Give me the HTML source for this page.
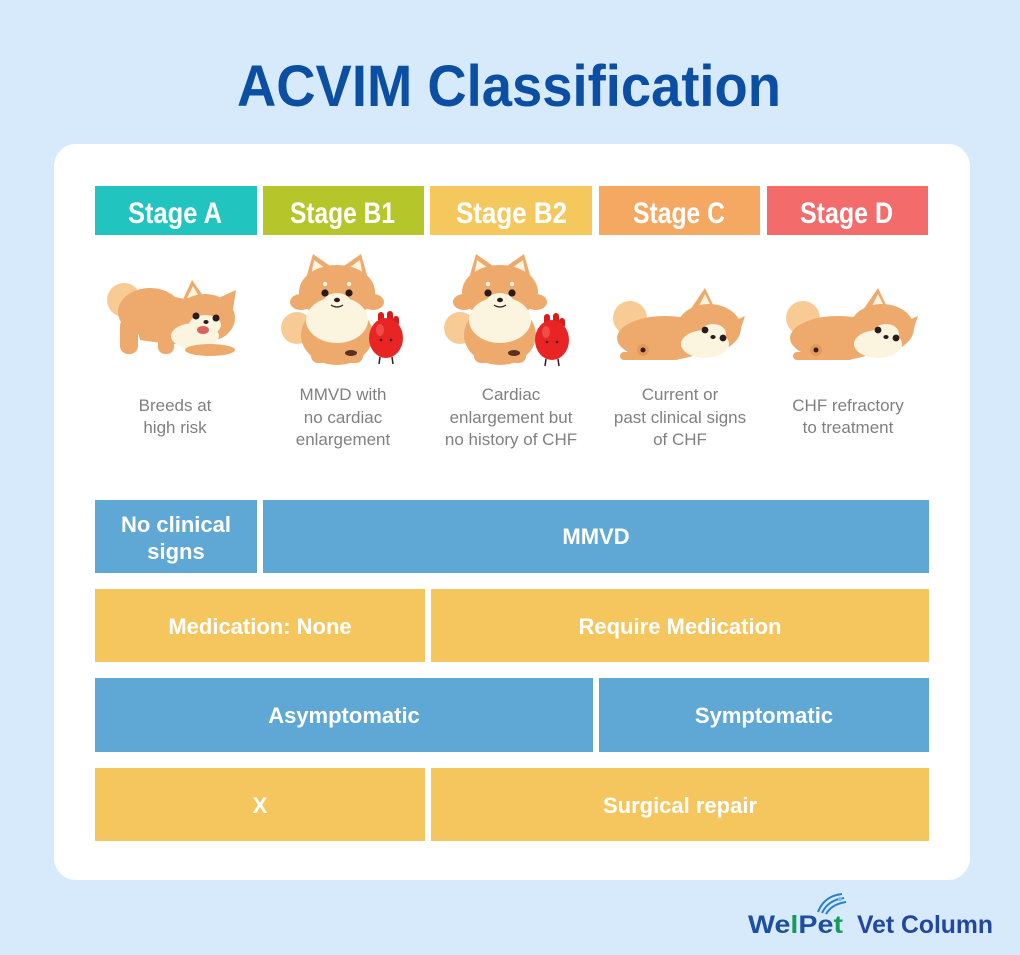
<!DOCTYPE html>
<html>
<head>
<meta charset="utf-8">
<style>
html,body{margin:0;padding:0;background:#d6eafc;}
svg{display:block;}
</style>
</head>
<body>
<svg width="1020" height="955" viewBox="0 0 1020 955" xmlns="http://www.w3.org/2000/svg">
  <defs>
    <g id="sitdog">
      <circle cx="-40" cy="38" r="16" fill="#f8cb95"/>
      <ellipse cx="0" cy="45" rx="36" ry="30" fill="#eeaa6c"/>
      <rect x="-26" y="52" width="17" height="21" rx="7" fill="#eeaa6c"/>
      <rect x="9" y="52" width="17" height="21" rx="7" fill="#eeaa6c"/>
      <polygon points="-32,-8 -24,-36 -4,-22" fill="#eeaa6c"/>
      <polygon points="32,-8 24,-36 4,-22" fill="#eeaa6c"/>
      <polygon points="-26,-14 -23,-30 -12,-22" fill="#fbf4df"/>
      <polygon points="26,-14 23,-30 12,-22" fill="#fbf4df"/>
      <ellipse cx="0" cy="2" rx="38" ry="27" fill="#eeaa6c"/>
      <ellipse cx="-36" cy="12" rx="11" ry="8" fill="#eeaa6c"/>
      <ellipse cx="36" cy="12" rx="11" ry="8" fill="#eeaa6c"/>
      <ellipse cx="0" cy="30" rx="31" ry="23" fill="#fbf4df"/>
      <ellipse cx="0" cy="13" rx="14" ry="10" fill="#fbf4df"/>
      <circle cx="-12" cy="-6" r="2.2" fill="#fbf4df"/>
      <circle cx="12" cy="-6" r="2.2" fill="#fbf4df"/>
      <circle cx="-12" cy="3" r="3.6" fill="#2a1a1a"/>
      <circle cx="12" cy="3" r="3.6" fill="#2a1a1a"/>
      <ellipse cx="0" cy="10" rx="3" ry="2.2" fill="#2a1a1a"/>
      <path d="M-6,15 Q0,19 6,15" stroke="#2a1a1a" stroke-width="1.2" fill="none"/>
      <ellipse cx="14" cy="63" rx="6" ry="3" fill="#5a3020"/>
    </g>
    <g id="heart">
      <rect x="-8" y="-26" width="6" height="12" rx="3" fill="#d81c1c"/>
      <rect x="1" y="-27" width="6" height="12" rx="3" fill="#d81c1c"/>
      <rect x="7" y="-22" width="6" height="10" rx="3" fill="#d81c1c"/>
      <ellipse cx="0" cy="0" rx="17" ry="20" fill="#e82424"/>
      <ellipse cx="-6" cy="-8" rx="4" ry="6" fill="#f04a4a"/>
      <line x1="-6" y1="19" x2="-7" y2="26" stroke="#3a1a1a" stroke-width="1.5"/>
      <line x1="6" y1="19" x2="7" y2="26" stroke="#3a1a1a" stroke-width="1.5"/>
      <circle cx="-5" cy="2" r="1.3" fill="#3a1a1a"/>
      <circle cx="5" cy="2" r="1.3" fill="#3a1a1a"/>
    </g>
    <g id="liedog">
      <circle cx="-35" cy="-20" r="17" fill="#f8cb95"/>
      <ellipse cx="0" cy="0" rx="48" ry="22" fill="#eeaa6c"/>
      <polygon points="25,-28 40,-50 52,-25" fill="#eeaa6c"/>
      <polygon points="58,-12 80,-22 72,2" fill="#eeaa6c"/>
      <polygon points="34,-32 40,-44 47,-30" fill="#fbf4df"/>
      <ellipse cx="44" cy="-10" rx="32" ry="24" fill="#eeaa6c"/>
      <ellipse cx="40" cy="6" rx="24" ry="14" fill="#fbf4df"/>
      <ellipse cx="48" cy="-4" rx="13" ry="10" fill="#fbf4df"/>
      <circle cx="40" cy="-8" r="3.4" fill="#2a1a1a"/>
      <circle cx="58" cy="0" r="3.4" fill="#2a1a1a"/>
      <ellipse cx="48" cy="-1" rx="2.6" ry="2" fill="#2a1a1a"/>
      <rect x="-45" y="14" width="60" height="8" rx="4" fill="#eeaa6c"/>
      <ellipse cx="-22" cy="12" rx="6" ry="6" fill="#e39a5a"/>
      <circle cx="-22" cy="12" r="2.5" fill="#3a1a1a"/>
    </g>
  </defs>

  <rect x="0" y="0" width="1020" height="955" fill="#d6eafc"/>

  <text x="237" y="106" font-family="Liberation Sans, sans-serif" font-weight="bold" font-size="58" fill="#0b4ea2" textLength="544" lengthAdjust="spacingAndGlyphs">ACVIM Classification</text>

  <rect x="54" y="144" width="916" height="736" rx="22" fill="#ffffff"/>

  <!-- Stage headers -->
  <rect x="95" y="186" width="162" height="49" fill="#22c4c0"/>
  <rect x="263" y="186" width="161" height="49" fill="#b5c62a"/>
  <rect x="430" y="186" width="162" height="49" fill="#f5c85e"/>
  <rect x="599" y="186" width="161" height="49" fill="#f4a862"/>
  <rect x="767" y="186" width="161" height="49" fill="#f46b6b"/>
  <g font-family="Liberation Sans, sans-serif" font-weight="bold" font-size="30" fill="#ffffff">
    <text x="128" y="223" textLength="94" lengthAdjust="spacingAndGlyphs">Stage A</text>
    <text x="290" y="223" textLength="105" lengthAdjust="spacingAndGlyphs">Stage B1</text>
    <text x="456" y="223" textLength="111" lengthAdjust="spacingAndGlyphs">Stage B2</text>
    <text x="633" y="223" textLength="92" lengthAdjust="spacingAndGlyphs">Stage C</text>
    <text x="800" y="223" textLength="93" lengthAdjust="spacingAndGlyphs">Stage D</text>
  </g>

  <!-- Stage A play-bow dog -->
  <g>
    <circle cx="124" cy="300" r="17" fill="#f8cb95"/>
    <ellipse cx="150" cy="312" rx="32" ry="24" fill="#eeaa6c"/>
    <path d="M130,300 Q170,290 200,305 L210,345 Q170,345 140,340 Z" fill="#eeaa6c"/>
    <rect x="120" y="318" width="18" height="36" rx="8" fill="#eeaa6c"/>
    <rect x="158" y="330" width="16" height="24" rx="7" fill="#eeaa6c"/>
    <polygon points="180,306 192,280 206,300" fill="#eeaa6c"/>
    <polygon points="214,300 236,290 232,316" fill="#eeaa6c"/>
    <polygon points="187,298 193,286 200,298" fill="#fbf4df"/>
    <ellipse cx="205" cy="318" rx="30" ry="24" fill="#eeaa6c"/>
    <ellipse cx="195" cy="336" rx="24" ry="13" fill="#fbf4df"/>
    <ellipse cx="205" cy="325" rx="16" ry="10" fill="#fbf4df"/>
    <ellipse cx="210" cy="350" rx="25" ry="6" fill="#eeaa6c"/>
    <circle cx="196" cy="316" r="3.5" fill="#2a1a1a"/>
    <circle cx="216" cy="318" r="3.5" fill="#2a1a1a"/>
    <ellipse cx="206" cy="322" rx="2.6" ry="2" fill="#2a1a1a"/>
    <ellipse cx="203" cy="330" rx="6" ry="4" fill="#e06060"/>
  </g>

  <!-- B1 -->
  <use href="#sitdog" x="337" y="290"/>
  <use href="#heart" x="386" y="338"/>
  <!-- B2 -->
  <use href="#sitdog" x="500" y="290"/>
  <use href="#heart" x="552" y="340"/>
  <!-- C and D -->
  <use href="#liedog" x="665" y="338"/>
  <use href="#liedog" x="838" y="338"/>

  <!-- Descriptions -->
  <g font-family="Liberation Sans, sans-serif" font-size="17" fill="#808080" text-anchor="middle">
    <text x="175" y="411">Breeds at</text>
    <text x="175" y="433">high risk</text>
    <text x="343" y="400">MMVD with</text>
    <text x="343" y="423">no cardiac</text>
    <text x="343" y="445">enlargement</text>
    <text x="511" y="400">Cardiac</text>
    <text x="511" y="423">enlargement but</text>
    <text x="511" y="445">no history of CHF</text>
    <text x="680" y="400">Current or</text>
    <text x="680" y="423">past clinical signs</text>
    <text x="680" y="445">of CHF</text>
    <text x="848" y="411">CHF refractory</text>
    <text x="848" y="433">to treatment</text>
  </g>

  <!-- Rows -->
  <rect x="95" y="500" width="162" height="73" fill="#5fa8d5"/>
  <rect x="263" y="500" width="666" height="73" fill="#5fa8d5"/>
  <rect x="95" y="589" width="330" height="73" fill="#f4c65d"/>
  <rect x="431" y="589" width="498" height="73" fill="#f4c65d"/>
  <rect x="95" y="678" width="498" height="74" fill="#5fa8d5"/>
  <rect x="599" y="678" width="330" height="74" fill="#5fa8d5"/>
  <rect x="95" y="768" width="330" height="73" fill="#f4c65d"/>
  <rect x="431" y="768" width="498" height="73" fill="#f4c65d"/>

  <g font-family="Liberation Sans, sans-serif" font-weight="bold" font-size="22" fill="#ffffff" text-anchor="middle">
    <text x="176" y="532">No clinical</text>
    <text x="176" y="559">signs</text>
    <text x="596" y="544">MMVD</text>
    <text x="260" y="634">Medication: None</text>
    <text x="680" y="634">Require Medication</text>
    <text x="344" y="723">Asymptomatic</text>
    <text x="764" y="723">Symptomatic</text>
    <text x="260" y="813">X</text>
    <text x="680" y="813">Surgical repair</text>
  </g>

  <!-- Logo -->
  <g>
    <path d="M818,912 Q824,896 842,894" stroke="#2a7fd0" stroke-width="2" fill="none"/>
    <path d="M822,913 Q828,900 844,898" stroke="#2a7fd0" stroke-width="2" fill="none"/>
    <path d="M826,914 Q832,904 846,902" stroke="#2a7fd0" stroke-width="2" fill="none"/>
    <circle cx="840" cy="899" r="2" fill="#7ab8e8"/>
  </g>
  <text x="748" y="933" font-family="Liberation Sans, sans-serif" font-weight="bold" font-size="25" textLength="95" lengthAdjust="spacingAndGlyphs"><tspan fill="#1e4ea0">We</tspan><tspan fill="#1a9a5a">l</tspan><tspan fill="#1e4ea0">Pe</tspan><tspan fill="#1a9a5a">t</tspan></text>
  <text x="857" y="933" font-family="Liberation Sans, sans-serif" font-weight="bold" font-size="25" fill="#2346a0" textLength="136" lengthAdjust="spacingAndGlyphs">Vet Column</text>
</svg>
</body>
</html>
